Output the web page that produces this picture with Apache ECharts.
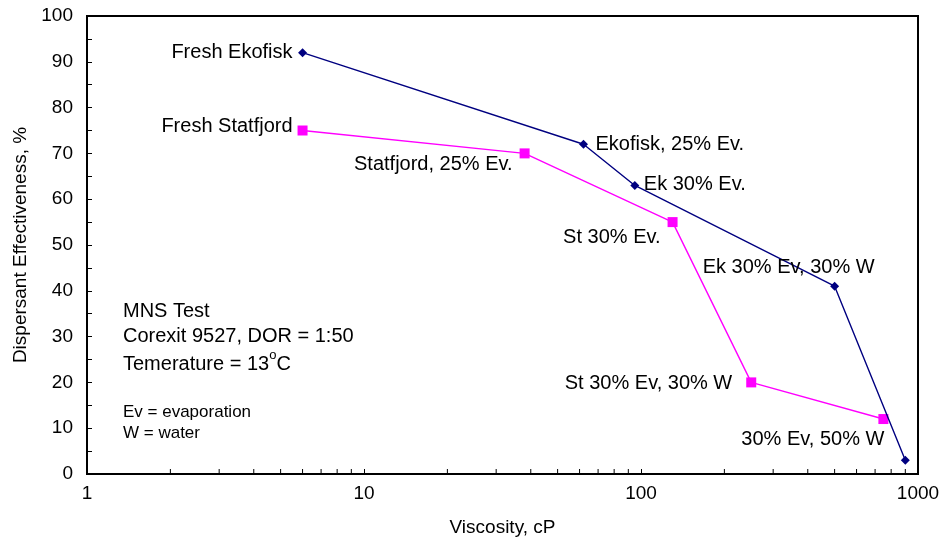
<!DOCTYPE html>
<html>
<head>
<meta charset="utf-8">
<script src="https://cdn.jsdelivr.net/npm/echarts@6/dist/echarts.min.js"></script>
<style>
  html, body { margin: 0; padding: 0; background: #fff; }
  #chart { width: 945px; height: 544px; }
</style>
</head>
<body>
<div id="chart"></div>
<script>
// viscosity (cP) vs dispersant effectiveness (%)
const ekofiskVisc = [6, 62, 95, 500, 900];
const ekofiskEff = [92, 72, 63, 41, 3];
const ekofiskNames = ["Fresh Ekofisk", "Ekofisk, 25% Ev.", "Ek 30% Ev.", "Ek 30% Ev, 30% W", ""];

const statfjordVisc = [6, 38, 130, 250, 750];
const statfjordEff = [75, 70, 55, 20, 12];
const statfjordNames = ["Fresh Statfjord", "Statfjord, 25% Ev.", "St 30% Ev.", "St 30% Ev, 30% W", "30% Ev, 50% W"];

const minorTicks = [2, 3, 4, 5, 6, 7, 8, 9, 20, 30, 40, 50, 60, 70, 80, 90, 200, 300, 400, 500, 600, 700, 800, 900];

// label placement: [align, dx, dy] relative to the point
const ekofiskPlace = [["right", -10, 0], ["left", 12, 0], ["left", 9, -1], ["right", 40, -19], ["left", 0, 0]];
const statfjordPlace = [["right", -10, -4], ["right", -12, 11], ["right", -12, 15], ["right", -19, 1], ["right", 1, 20]];

const FONT = "'Liberation Sans', Arial, sans-serif";

function points(xs, ys, names, place) {
  return xs.map((x, i) => ({
    value: [x, ys[i]],
    label: {
      show: !!names[i],
      formatter: names[i],
      position: "inside",
      align: place[i][0],
      verticalAlign: "middle",
      offset: [place[i][1], place[i][2]],
      color: "#000",
      fontSize: 20,
      fontFamily: FONT,
    },
  }));
}

const chart = echarts.init(document.getElementById("chart"));
chart.setOption({
  animation: false,
  textStyle: { fontFamily: FONT },
  grid: { left: 87, right: 27, top: 16, bottom: 70, show: true, borderColor: "#000", borderWidth: 2, backgroundColor: "transparent" },
  xAxis: {
    type: "log",
    logBase: 10,
    min: 1,
    max: 1000,
    name: "Viscosity, cP",
    nameLocation: "middle",
    nameGap: 44,
    nameTextStyle: { color: "#000", fontSize: 19, fontFamily: FONT },
    axisLine: { lineStyle: { color: "#000", width: 2 } },
    axisTick: { inside: true, length: 5, lineStyle: { color: "#000" } },
    axisLabel: { color: "#000", fontSize: 19, margin: 10, fontFamily: FONT, formatter: v => String(Math.round(v)) },
    splitLine: { show: false },
    minorTick: { show: false },
  },
  yAxis: {
    type: "value",
    min: 0,
    max: 100,
    interval: 10,
    name: "Dispersant Effectiveness, %",
    nameLocation: "middle",
    nameGap: 57,
    nameTextStyle: { color: "#000", fontSize: 19, fontFamily: FONT },
    axisLine: { show: true, lineStyle: { color: "#000", width: 2 } },
    axisTick: { show: true, inside: true, length: 5, lineStyle: { color: "#000" } },
    minorTick: { show: true, splitNumber: 2, length: 5, lineStyle: { color: "#000" } },
    axisLabel: { color: "#000", fontSize: 19, margin: 14, fontFamily: FONT },
    splitLine: { show: false },
  },
  graphic: [
    { type: "text", left: 123, top: 301, style: { text: "MNS Test", fontSize: 20, fontFamily: FONT, fill: "#000" } },
    { type: "text", left: 123, top: 326, style: { text: "Corexit 9527, DOR = 1:50", fontSize: 20, fontFamily: FONT, fill: "#000" } },
    {
      type: "text", left: 123, top: 349,
      style: {
        text: "{a|Temerature = 13}{s|o}{a|C}",
        fontFamily: FONT, fill: "#000",
        rich: {
          a: { fontSize: 20, lineHeight: 25, fontFamily: FONT, verticalAlign: "bottom" },
          s: { fontSize: 13, lineHeight: 25, fontFamily: FONT, verticalAlign: "top" },
        },
      },
    },
    { type: "text", left: 123, top: 404, style: { text: "Ev = evaporation", fontSize: 17, fontFamily: FONT, fill: "#000" } },
    { type: "text", left: 123, top: 425, style: { text: "W = water", fontSize: 17, fontFamily: FONT, fill: "#000" } },
  ],
  series: [
    {
      name: "Ekofisk",
      type: "line",
      data: points(ekofiskVisc, ekofiskEff, ekofiskNames, ekofiskPlace),
      symbol: "diamond",
      symbolSize: 9,
      itemStyle: { color: "#000080" },
      lineStyle: { color: "#000080", width: 1.4 },
      z: 3,
    },
    {
      name: "Statfjord",
      type: "line",
      data: points(statfjordVisc, statfjordEff, statfjordNames, statfjordPlace),
      symbol: "rect",
      symbolSize: 10,
      itemStyle: { color: "#FF00FF" },
      lineStyle: { color: "#FF00FF", width: 1.4 },
      z: 2,
    },
    {
      name: "minorTicks",
      type: "custom",
      silent: true,
      data: minorTicks.map(v => [v, 0]),
      renderItem: (params, api) => {
        const p = api.coord([api.value(0), 0]);
        return { type: "line", shape: { x1: p[0], y1: p[1], x2: p[0], y2: p[1] - 5 }, style: { stroke: "#000", lineWidth: 1 } };
      },
      z: 1,
    },
  ],
});
</script>
</body>
</html>
